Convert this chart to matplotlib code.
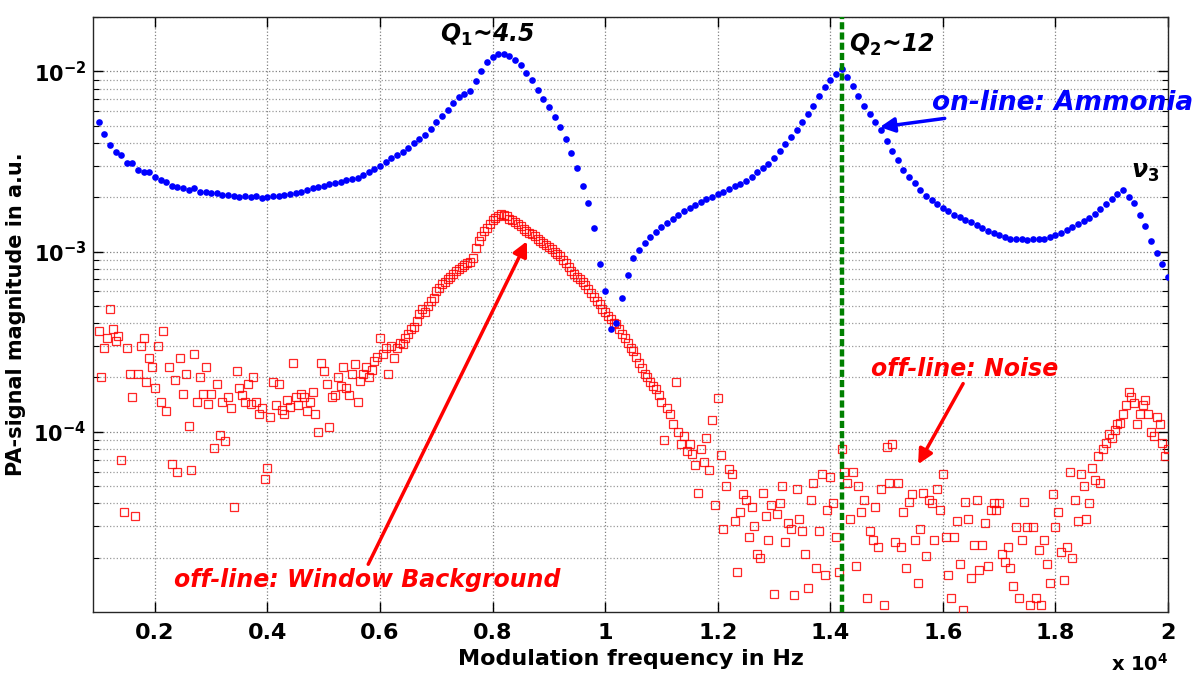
import numpy as np
import matplotlib
matplotlib.use("Agg")
import matplotlib.pyplot as plt
from matplotlib.ticker import FixedLocator, FixedFormatter, LogLocator, NullFormatter

plt.rcParams['font.family'] = ['DejaVu Sans']
plt.rcParams['mathtext.fontset'] = 'custom'
plt.rcParams['mathtext.it'] = 'DejaVu Sans:italic:bold'
plt.rcParams['mathtext.rm'] = 'DejaVu Sans:bold'
plt.rcParams['mathtext.bf'] = 'DejaVu Sans:bold'

# ---------------- data ----------------
# on-line (ammonia) signal, 100 Hz steps from 1000 Hz to 20000 Hz, values in 1e-3 a.u.
online_start_hz = 1000
online_step_hz = 100
online_mag_e3 = [
    5.2, 4.5, 3.9, 3.55, 3.45, 3.1, 3.1, 2.85, 2.75, 2.75,
    2.6, 2.5, 2.42, 2.3, 2.28, 2.25, 2.2, 2.24, 2.15, 2.13,
    2.1, 2.1, 2.06, 2.05, 2.03, 2.0, 2.04, 2.0, 2.02, 1.99,
    2.0, 2.02, 2.04, 2.06, 2.08, 2.12, 2.15, 2.2, 2.24, 2.28,
    2.32, 2.36, 2.4, 2.44, 2.48, 2.52, 2.56, 2.65, 2.75, 2.88,
    3.0, 3.15, 3.3, 3.42, 3.55, 3.75, 4.0, 4.2, 4.45, 4.8,
    5.2, 5.65, 6.1, 6.7, 7.2, 7.5, 7.8, 8.8, 10.0, 11.2,
    12.0, 12.5, 12.4, 12.1, 11.5, 10.8, 9.8, 9.0, 7.9, 7.0,
    6.3, 5.6, 4.9, 4.2, 3.5, 2.9, 2.3, 1.85, 1.35, 0.85,
    0.6, 0.37, 0.40, 0.55, 0.74, 0.92, 1.02, 1.12, 1.2, 1.28,
    1.36, 1.44, 1.52, 1.6, 1.68, 1.75, 1.82, 1.88, 1.95, 2.0,
    2.08, 2.15, 2.22, 2.3, 2.38, 2.47, 2.58, 2.75, 2.92, 3.05,
    3.3, 3.6, 3.95, 4.3, 4.7, 5.2, 5.8, 6.4, 7.3, 8.2,
    9.0, 9.7, 10.3, 9.3, 8.3, 7.3, 6.4, 5.8, 5.2, 4.7,
    4.1, 3.6, 3.2, 2.85, 2.6, 2.4, 2.2, 2.03, 1.93, 1.83,
    1.75, 1.68, 1.6, 1.55, 1.5, 1.45, 1.4, 1.35, 1.3, 1.27,
    1.23, 1.2, 1.18, 1.17, 1.17, 1.16, 1.17, 1.17, 1.18, 1.2,
    1.23, 1.27, 1.32, 1.37, 1.42, 1.47, 1.53, 1.62, 1.72, 1.83,
    1.95, 2.08, 2.2, 2.0, 1.85, 1.6, 1.38, 1.15, 0.98, 0.85, 0.72,
]

# off-line signal, 50 Hz steps from 1000 Hz to 20000 Hz, values in 1e-5 a.u.
offline_start_hz = 1000
offline_step_hz = 50
offline_mag_e5 = [
    36, 20, 29, 33, 48, 37, 32, 34, 7.0, 3.6, 29, 21, 15.5, 3.4, 21, 30, 33, 19, 25.6, 23,
    17.4, 30, 14.7, 36, 13, 23, 6.6, 19.4, 6.0, 25.5, 16.3, 21, 10.7, 6.1, 27, 14.7, 20, 16.3, 23, 14.3,
    16.3, 8.1, 18.3, 9.6, 14.7, 8.9, 15.6, 13.5, 3.8, 21.7, 17.4, 16, 14.7, 18.3, 14.3, 20, 14.7, 12.5, 13.5, 5.5,
    6.3, 12, 19, 14, 18.3, 13.2, 12.5, 15, 13.8, 24, 15.5, 14, 16.3, 15.5, 13, 14.7, 16.7, 12.5, 10, 24,
    21.7, 18.3, 10.6, 15.5, 16, 20, 18, 23, 17.4, 16, 21, 23.8, 14.7, 19.1, 21, 23, 20, 22, 24.8, 26,
    33, 27, 29, 21, 30, 25.6, 29, 31, 30.5, 33, 35, 37, 38, 41, 45, 48, 46, 50, 53, 55,
    60, 63, 66, 68, 70, 72, 75, 78, 80, 82, 84, 86, 88, 92, 105, 115, 122, 130, 135, 142,
    150, 154, 158, 162, 160, 157, 152, 150, 146, 142, 138, 134, 130, 127, 125, 122, 118, 115, 112, 108,
    106, 103, 100, 97, 94, 90, 86, 82, 78, 75, 72, 70, 68, 65, 62, 59, 56, 53, 51, 48,
    46, 44, 42, 40, 39.5, 37, 35, 33, 31, 29, 28, 26, 24, 22.5, 21, 20, 19, 18, 17.3, 16,
    14.7, 9, 13.5, 12.5, 11, 19, 10, 8.5, 9.5, 7.8, 8.5, 7.5, 6.5, 4.6, 8.0, 6.8, 9.2, 6.1, 11.6, 3.9,
    15.4, 7.4, 2.9, 5.0, 6.2, 5.8, 3.2, 1.66, 3.6, 4.5, 4.2, 2.6, 3.8, 3.0, 2.1, 2.0, 4.6, 3.4, 2.5, 3.9,
    1.26, 3.5, 4.0, 5.0, 2.45, 3.1, 2.9, 1.25, 4.8, 3.3, 2.8, 2.1, 1.36, 4.2, 5.2, 1.75, 2.8, 5.8, 1.6, 3.7,
    5.6, 4.0, 2.6, 1.66, 8.0, 6.0, 5.2, 3.3, 6.0, 1.8, 5.0, 3.6, 4.2, 1.2, 2.8, 2.5, 3.8, 2.3, 4.8, 1.1,
    8.2, 5.2, 8.5, 2.45, 5.2, 2.3, 3.6, 1.75, 4.1, 4.5, 2.5, 1.45, 2.9, 4.6, 2.05, 4.2, 4.0, 2.5, 4.8, 3.7,
    5.8, 2.6, 1.6, 1.2, 2.6, 3.2, 1.85, 1.02, 4.1, 3.3, 1.55, 2.35, 4.2, 1.7, 2.35, 3.1, 1.8, 3.7, 4.0, 3.7,
    4.0, 2.1, 1.9, 2.3, 1.75, 1.4, 2.95, 1.2, 2.5, 4.1, 2.95, 1.1, 2.95, 1.2, 2.2, 1.1, 2.5, 1.85, 1.45, 4.5,
    2.95, 3.6, 2.15, 1.5, 2.3, 6.0, 2.0, 4.2, 3.2, 5.8, 5.0, 3.3, 4.0, 6.3, 5.4, 7.3, 5.2, 8.0, 8.7, 9.7,
    9.2, 10.2, 11, 11.2, 12.5, 14, 16.7, 15.6, 14.5, 11, 12.5, 14, 15, 12.5, 10, 9.5, 12, 11, 8.7, 7.3, 8.0,
]

q2_freq_hz = 14200
x_tick_vals = [2000, 4000, 6000, 8000, 10000, 12000, 14000, 16000, 18000, 20000]
x_tick_labels = ['0.2', '0.4', '0.6', '0.8', '1', '1.2', '1.4', '1.6', '1.8', '2']
y_tick_vals = [1e-4, 1e-3, 1e-2]
y_tick_labels = [r'$\mathbf{10^{-4}}$', r'$\mathbf{10^{-3}}$', r'$\mathbf{10^{-2}}$']

online_f = online_start_hz + online_step_hz * np.arange(len(online_mag_e3))
online_v = np.array(online_mag_e3) * 1e-3
offline_f = offline_start_hz + offline_step_hz * np.arange(len(offline_mag_e5))
offline_v = np.array(offline_mag_e5) * 1e-5

# ---------------- figure ----------------
fig = plt.figure(figsize=(12, 6.75), dpi=100)
ax = fig.add_axes([93 / 1200, 1 - 612 / 675, (1168 - 93) / 1200, (612 - 17) / 675])
ax.set_yscale('log')
ax.set_xlim(900, 20000)
ax.set_ylim(1e-5, 2e-2)

ax.plot(offline_f, offline_v, linestyle='none', marker='s', ms=6.2,
        mfc='none', mec='#ff0000', mew=0.9, alpha=0.85, zorder=3)
ax.plot(online_f, online_v, linestyle='none', marker='o', ms=4.8,
        mfc='#0000ff', mec='#0000ff', mew=0, zorder=4)
ax.axvline(q2_freq_hz, color='#008000', lw=3.2, dashes=(1.6, 0.7), zorder=5)

ax.xaxis.set_major_locator(FixedLocator(x_tick_vals))
ax.xaxis.set_major_formatter(FixedFormatter(x_tick_labels))
ax.yaxis.set_major_locator(FixedLocator(y_tick_vals))
ax.yaxis.set_major_formatter(FixedFormatter(y_tick_labels))
ax.yaxis.set_minor_locator(LogLocator(base=10, subs=np.arange(2, 10)))
ax.yaxis.set_minor_formatter(NullFormatter())

ax.tick_params(which='both', direction='in', top=True, right=True)
ax.tick_params(axis='x', which='major', length=7, width=1, labelsize=16, pad=8)
ax.tick_params(axis='y', which='major', length=7, width=1, labelsize=15, pad=5)
ax.tick_params(which='minor', length=4, width=0.8)
for lab in ax.get_xticklabels() + ax.get_yticklabels():
    lab.set_fontweight('bold')

ax.grid(which='major', linestyle=':', color='0.5', lw=0.9)
ax.grid(which='minor', axis='y', linestyle=':', color='0.6', lw=0.9)
for s in ax.spines.values():
    s.set_linewidth(1.0)
    s.set_color('0.15')

ax.set_xlabel('Modulation frequency in Hz', fontsize=16, fontweight='bold', labelpad=4)
ax.set_ylabel('PA-signal magnitude in a.u.', fontsize=15, fontweight='bold', labelpad=4)
ax.yaxis.set_label_coords(-0.062, 0.5)

fig.text(1140 / 1200, 1 - 664 / 675, r'x $\mathregular{10^{4}}$', fontsize=14,
         ha='center', va='center', fontweight='bold')

# annotations
ax.text(7900, 1.45e-2, r'$Q_1$~4.5', fontsize=17, fontweight='bold', style='italic',
        ha='center', va='baseline', zorder=6)
ax.text(14330, 1.28e-2, r'$Q_2$~12', fontsize=17, fontweight='bold', style='italic',
        ha='left', va='baseline', zorder=6)
ax.text(19350, 2.57e-3, r'$\nu_3$', fontsize=17, ha='left', va='baseline', zorder=6)

ax.annotate('on-line: Ammonia', xy=(14880, 4.9e-3), xytext=(15800, 6.7e-3),
            fontsize=19, fontweight='bold', style='italic', color='#0000ff',
            ha='left', va='center', zorder=6, annotation_clip=False,
            arrowprops=dict(arrowstyle='-|>', color='#0000ff', lw=2.5,
                            mutation_scale=22, shrinkA=0, shrinkB=0))

ax.annotate('', xy=(15560, 6.6e-5), xytext=(16360, 1.85e-4),
            arrowprops=dict(arrowstyle='-|>', color='#ff0000', lw=2.5,
                            mutation_scale=22, shrinkA=0, shrinkB=0), zorder=6)
ax.text(16390, 2.24e-4, 'off-line: Noise', fontsize=17, fontweight='bold', style='italic',
        color='#ff0000', ha='center', va='center', zorder=6)

ax.annotate('', xy=(8610, 1.14e-3), xytext=(5790, 1.84e-5),
            arrowprops=dict(arrowstyle='-|>', color='#ff0000', lw=2.5,
                            mutation_scale=22, shrinkA=0, shrinkB=0), zorder=6)
ax.text(5780, 1.5e-5, 'off-line: Window Background', fontsize=17, fontweight='bold',
        style='italic', color='#ff0000', ha='center', va='center', zorder=6)

fig.savefig('out.png', dpi=100)
